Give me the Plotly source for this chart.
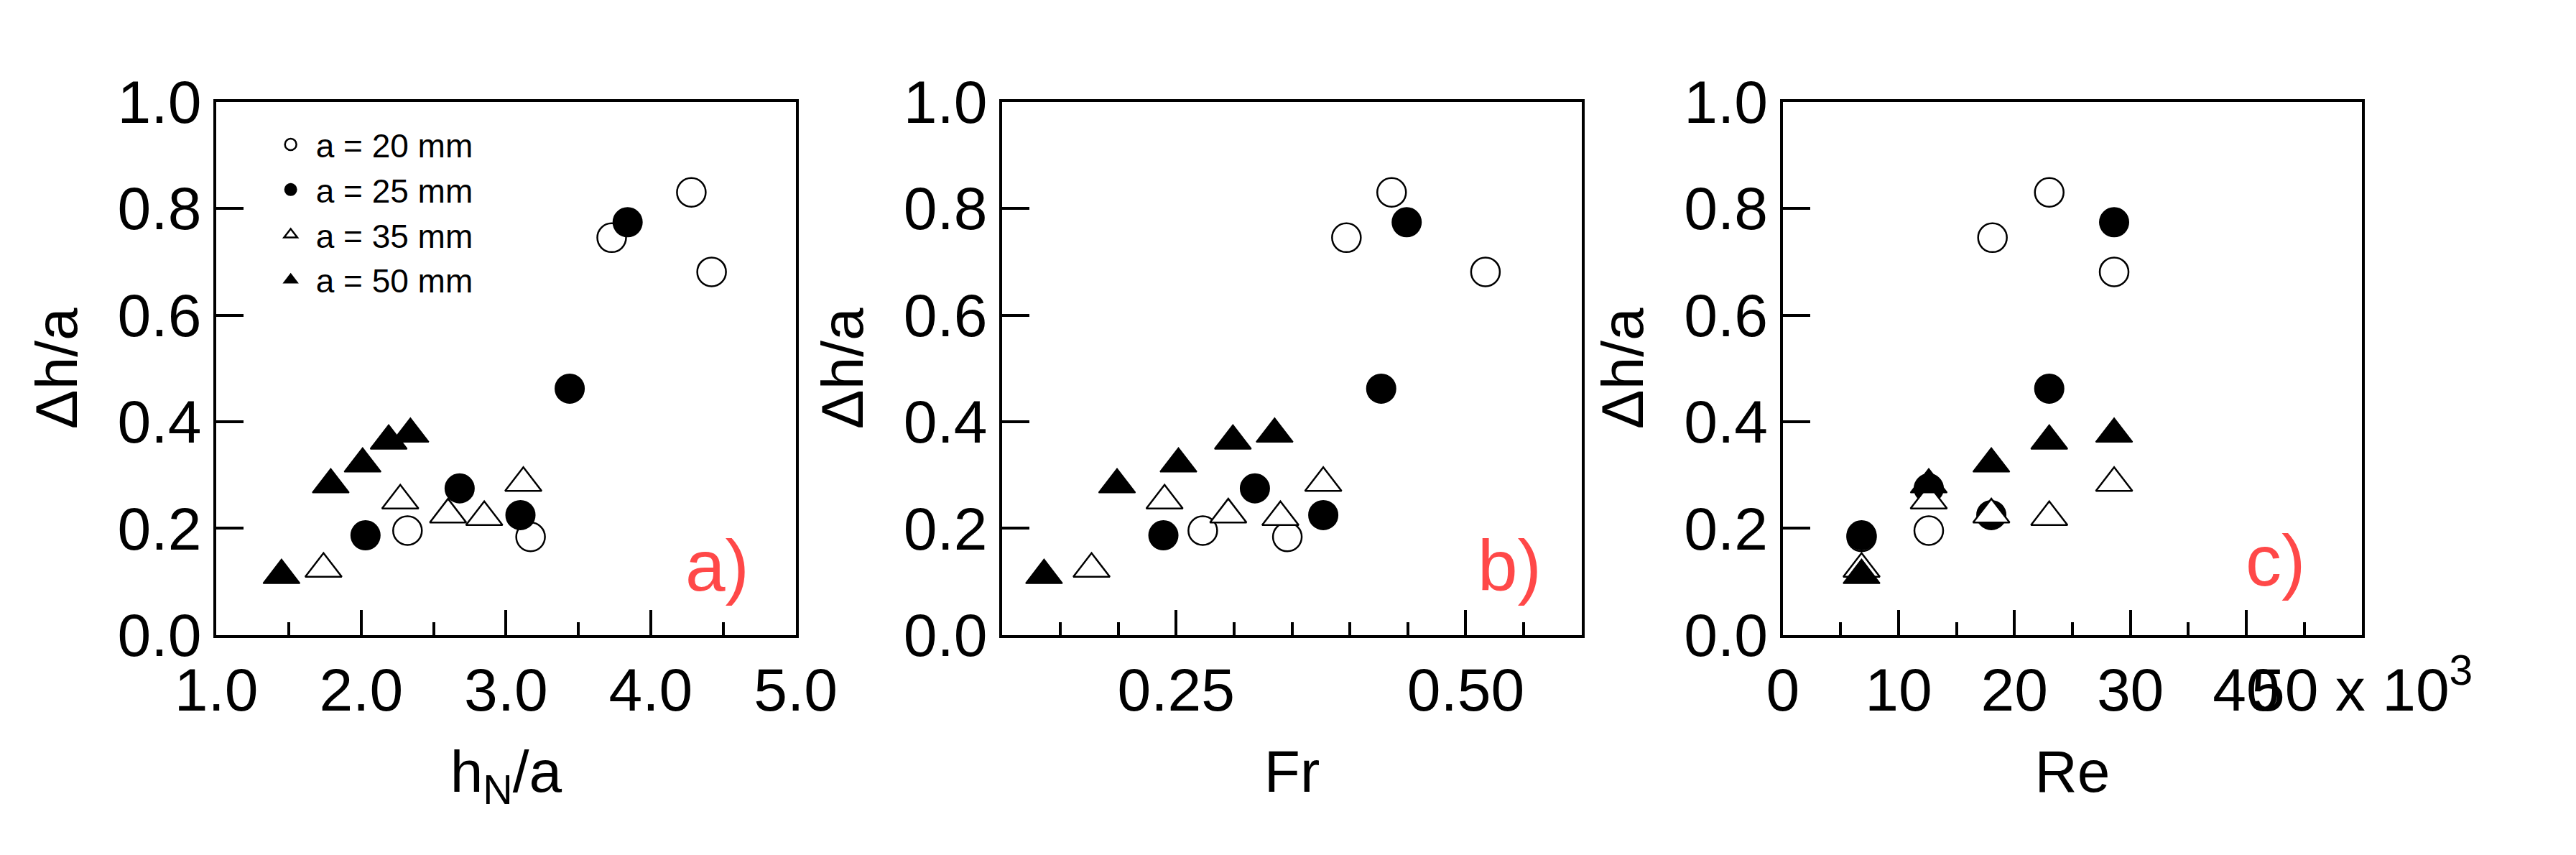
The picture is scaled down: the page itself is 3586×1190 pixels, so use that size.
import plotly.graph_objects as go

# shared y values (Δh/a) per series
y_20 = [0.745, 0.830, 0.681, 0.196, 0.184]
y_25 = [0.774, 0.462, 0.187, 0.275, 0.225]
y_35 = [0.124, 0.252, 0.226, 0.221, 0.285]
y_50 = [0.112, 0.282, 0.321, 0.364, 0.377]

# panel a: hN/a
hn_20 = [3.73, 4.28, 4.42, 2.32, 3.17]
hn_25 = [3.84, 3.44, 2.03, 2.68, 3.10]
hn_35 = [1.74, 2.27, 2.60, 2.85, 3.12]
hn_50 = [1.45, 1.79, 2.01, 2.19, 2.34]

# panel b: Fr
fr_20 = [0.397, 0.436, 0.517, 0.273, 0.346]
fr_25 = [0.449, 0.427, 0.239, 0.318, 0.377]
fr_35 = [0.177, 0.240, 0.295, 0.340, 0.377]
fr_50 = [0.136, 0.199, 0.252, 0.299, 0.335]

# panel c: Re (x 10^3)
re_20 = [18.1, 23.0, 28.6, 12.6, 6.8]
re_25 = [28.6, 23.0, 6.8, 12.6, 18.0]
re_35 = [6.8, 12.6, 18.0, 23.0, 28.6]
re_50 = [6.8, 12.6, 18.0, 23.0, 28.6]

series_names = ["a = 20 mm", "a = 25 mm", "a = 35 mm", "a = 50 mm"]
panel_labels = ["a)", "b)", "c)"]
re_ticktext = ["0", "10", "20", "30", "40", "50 x 10<sup>3</sup>"]

FONT = "Liberation Sans, Arial"
styles = [
    dict(symbol="circle", color="white", line=dict(color="black", width=2.5), size=40),
    dict(symbol="circle", color="black", line=dict(color="black", width=2), size=40),
    dict(symbol="triangle-up", color="white", line=dict(color="black", width=2.5), size=44),
    dict(symbol="triangle-up", color="black", line=dict(color="black", width=2), size=44),
]

panels = [
    ([hn_20, hn_25, hn_35, hn_50], "x", "y"),
    ([fr_20, fr_25, fr_35, fr_50], "x2", "y2"),
    ([re_20, re_25, re_35, re_50], "x3", "y3"),
]
ys = [y_20, y_25, y_35, y_50]

fig = go.Figure()
for pi, (xs, xa, ya) in enumerate(panels):
    for si in range(4):
        fig.add_trace(go.Scatter(
            x=xs[si], y=ys[si], mode="markers", name=series_names[si],
            marker=styles[si], xaxis=xa, yaxis=ya, showlegend=(pi == 0)))

domains = [[0.0697, 0.3087], [0.394, 0.633], [0.716, 0.955]]
ydom = [0.2437, 0.921]
common_ax = dict(showline=True, linecolor="black", linewidth=4, mirror=True,
                 showgrid=False, zeroline=False, ticks="inside", tickwidth=4,
                 tickcolor="black", tickfont=dict(family=FONT, size=84, color="black"),
                 title_font=dict(family=FONT, size=82, color="black"))

layout = dict(
    width=3586, height=1190, margin=dict(l=0, r=0, t=0, b=0),
    plot_bgcolor="white", paper_bgcolor="white",
    font=dict(family=FONT, color="black"),
    legend=dict(x=0.09, y=0.90, xanchor="left", yanchor="top", bgcolor="rgba(0,0,0,0)",
                font=dict(family=FONT, size=46, color="black"), itemsizing="trace",
                tracegroupgap=0, itemwidth=60),
)
xcfg = [
    dict(range=[1.0, 5.0], tickvals=[1, 2, 3, 4, 5], ticktext=["1.0", "2.0", "3.0", "4.0", "5.0"],
         minor=dict(ticks="inside", tick0=1.5, dtick=1, ticklen=18, tickwidth=4, tickcolor="black"),
         title=dict(text="h<sub>N</sub>/a", standoff=40)),
    dict(range=[0.1, 0.6], tickvals=[0.25, 0.5], ticktext=["0.25", "0.50"],
         minor=dict(ticks="inside", tick0=0.1, dtick=0.05, ticklen=18, tickwidth=4, tickcolor="black"),
         title=dict(text="Fr", standoff=40)),
    dict(range=[0, 50], tickvals=[0, 10, 20, 30, 40, 50], ticktext=re_ticktext,
         minor=dict(ticks="inside", tick0=5, dtick=10, ticklen=18, tickwidth=4, tickcolor="black"),
         title=dict(text="Re", standoff=40), tickangle=0),
]
for i in range(3):
    sfx = "" if i == 0 else str(i + 1)
    layout["xaxis" + sfx] = dict(common_ax, domain=domains[i], anchor="y" + sfx, ticklen=35, **xcfg[i])
    layout["yaxis" + sfx] = dict(common_ax, domain=ydom, anchor="x" + sfx, range=[0, 1.0],
                                 tickvals=[0, 0.2, 0.4, 0.6, 0.8, 1.0],
                                 ticktext=["0.0", "0.2", "0.4", "0.6", "0.8", "1.0"],
                                 ticklen=38, title=dict(text="Δh/a", standoff=30))
fig.update_layout(**layout)

label_pos = [(4.46, 0.13), (0.538, 0.13), (42.5, 0.14)]
for i, (lx, ly) in enumerate(label_pos):
    sfx = "" if i == 0 else str(i + 1)
    fig.add_annotation(x=lx, y=ly, xref="x" + sfx, yref="y" + sfx, text=panel_labels[i],
                       showarrow=False, font=dict(family=FONT, size=100, color="#ff4848"))

fig.write_html("out.html")
